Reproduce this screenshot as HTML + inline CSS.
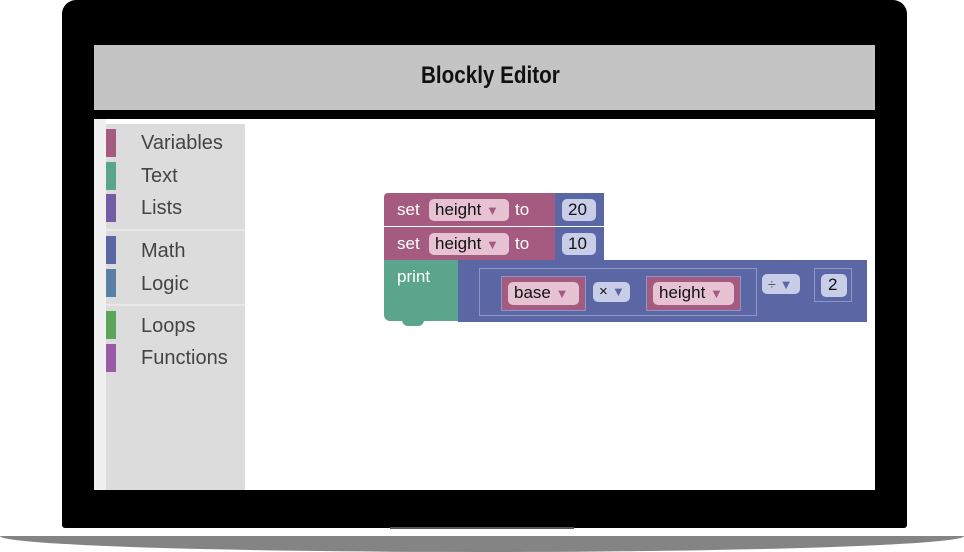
<!DOCTYPE html>
<html><head><style>
body{margin:0;width:964px;height:550px;background:#fff;position:relative;overflow:hidden;font-family:"Liberation Sans",sans-serif}
.a{position:absolute;box-sizing:border-box}
.lbl{position:absolute;font-size:20px;color:#444;left:141px}
.bar{position:absolute;left:106px;width:10px;height:28px}
.t{position:absolute;color:#fff;font-size:17px}
.f{position:absolute;border-radius:5px;font-size:17px;color:#111;line-height:22px;padding-left:6px;box-sizing:border-box}
.v{background:#e6c2d3}
.m{background:#c8cde8}
.ar{font-size:13px;color:#a55b80}
.am{font-size:13px;color:#5b67a5}
</style></head><body>
<div class="a" style="left:62px;top:0;width:845px;height:528px;background:#000;border-radius:14px 14px 3px 3px"></div>
<div class="a" style="left:0;top:536px;width:964px;height:16px;background:#848484;border-radius:0 0 50% 50%/0 0 100% 100%"></div>
<div class="a" style="left:390px;top:527px;width:184px;height:2px;background:#555"></div>
<div class="a" style="left:94px;top:45px;width:781px;height:65px;background:#c4c4c4"></div>
<div class="a" style="left:421px;top:62px;font-weight:bold;font-size:24px;color:#111;transform:scaleX(0.86);transform-origin:0 0;white-space:nowrap">Blockly Editor</div>
<div class="a" style="left:94px;top:119px;width:781px;height:371px;background:#fff"></div>
<div class="a" style="left:94px;top:119px;width:12px;height:371px;background:#f0f0f0"></div>
<div class="a" style="left:106px;top:124px;width:139px;height:366px;background:#dcdcdc"></div>
<div class="a" style="left:106px;top:229px;width:139px;height:2px;background:#e8e8e8"></div>
<div class="a" style="left:106px;top:304px;width:139px;height:2px;background:#e8e8e8"></div>
<div class="bar" style="top:129px;background:#a55b80"></div>
<div class="bar" style="top:162px;background:#5ba58c"></div>
<div class="bar" style="top:194px;background:#745ba5"></div>
<div class="bar" style="top:236px;background:#5b67a5"></div>
<div class="bar" style="top:269px;background:#5b80a5"></div>
<div class="bar" style="top:311px;background:#5ba55b"></div>
<div class="bar" style="top:344px;background:#995ba5"></div>
<div class="lbl" style="top:132px">Variables</div>
<div class="lbl" style="top:165px">Text</div>
<div class="lbl" style="top:197px">Lists</div>
<div class="lbl" style="top:240px">Math</div>
<div class="lbl" style="top:273px">Logic</div>
<div class="lbl" style="top:315px">Loops</div>
<div class="lbl" style="top:347px">Functions</div>

<div class="a" style="left:384px;top:193px;width:172px;height:33px;background:#a55b80;border-radius:4px 0 0 0"></div>
<div class="a" style="left:555px;top:193px;width:49px;height:33px;background:#5b67a5"></div>
<div class="a" style="left:384px;top:227px;width:172px;height:33px;background:#a55b80"></div>
<div class="a" style="left:555px;top:227px;width:49px;height:33px;background:#5b67a5"></div>
<div class="t" style="left:397px;top:200px">set</div>
<div class="f v" style="left:429px;top:199px;width:80px;height:22px">height <span class="ar">▼</span></div>
<div class="t" style="left:515px;top:200px">to</div>
<div class="f m" style="left:562px;top:199px;width:34px;height:22px">20</div>
<div class="t" style="left:397px;top:234px">set</div>
<div class="f v" style="left:429px;top:233px;width:80px;height:22px">height <span class="ar">▼</span></div>
<div class="t" style="left:515px;top:234px">to</div>
<div class="f m" style="left:562px;top:233px;width:34px;height:22px">10</div>

<div class="a" style="left:384px;top:260px;width:75px;height:61px;background:#5ba58c;border-radius:0 0 0 6px"></div>
<div class="a" style="left:402px;top:320px;width:22px;height:6px;background:#5ba58c;border-radius:0 0 8px 8px"></div>
<div class="t" style="left:397px;top:267px">print</div>
<div class="a" style="left:458px;top:260px;width:409px;height:62px;background:#5b67a5"></div>
<div class="a" style="left:479px;top:268px;width:278px;height:48px;border:1px solid #8d96c6"></div>
<div class="a" style="left:501px;top:276px;width:85px;height:35px;background:#a55b80;border:1px solid #8d96c6"></div>
<div class="f v" style="left:508px;top:282px;width:71px;height:23px">base <span class="ar">▼</span></div>
<div class="f m" style="left:593px;top:282px;width:37px;height:20px;line-height:20px;font-size:15px">× <span class="am">▼</span></div>
<div class="a" style="left:646px;top:276px;width:95px;height:35px;background:#a55b80;border:1px solid #8d96c6"></div>
<div class="f v" style="left:653px;top:282px;width:81px;height:23px">height <span class="ar">▼</span></div>
<div class="f m" style="left:762px;top:274px;width:38px;height:20px;line-height:20px;font-size:14px;color:#555">÷ <span class="am">▼</span></div>
<div class="a" style="left:814px;top:268px;width:38px;height:34px;border:1px solid #8d96c6"></div>
<div class="f m" style="left:821px;top:274px;width:26px;height:23px;padding-left:7px">2</div>
</body></html>
